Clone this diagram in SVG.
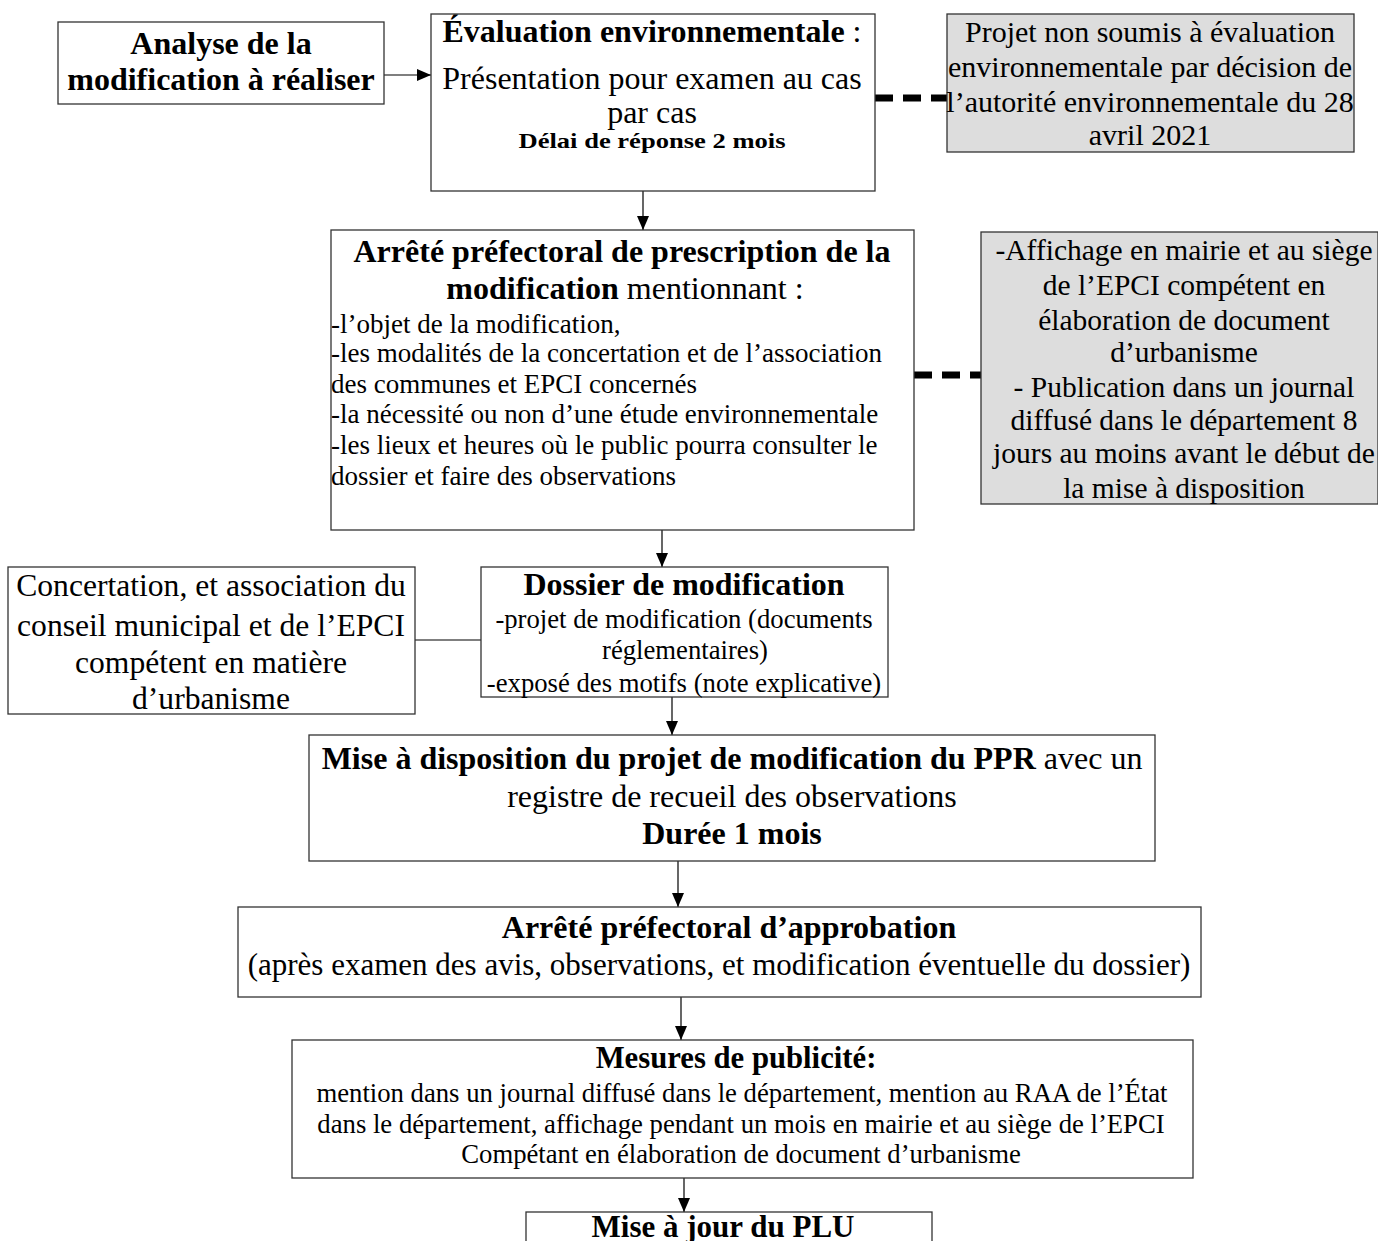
<svg xmlns="http://www.w3.org/2000/svg" width="1378" height="1241" viewBox="0 0 1378 1241">
<defs>
<marker id="arr" viewBox="0 0 14 12" refX="14" refY="6" markerWidth="14" markerHeight="12" markerUnits="userSpaceOnUse" orient="auto">
<path d="M0,0 L14,6 L0,12 Z" fill="#000"/>
</marker>
<style>
.box{fill:#fff;stroke:#333;stroke-width:1.3}
.gray{fill:#dddddd;stroke:#333;stroke-width:1.3}
text{font-family:"Liberation Serif","Times New Roman",serif;fill:#000}
.c{text-anchor:middle}
.b{font-weight:bold}
.h{font-size:32px}
.m{font-size:31.6px}
.g{font-size:30px}
.g2{font-size:29.5px}
.s{font-size:27px}
.s2{font-size:26.7px}
.ln{stroke:#000;stroke-width:1.2;fill:none}
.dash{stroke:#000;stroke-width:7;stroke-dasharray:18,10;fill:none}
</style>
</defs>
<rect width="1378" height="1241" fill="#fff"/>
<g id="connectors">
<line class="ln" x1="384" y1="75" x2="431" y2="75" marker-end="url(#arr)"/>
<line class="dash" x1="875" y1="98" x2="947" y2="98"/>
<line class="ln" x1="643" y1="191" x2="643" y2="230" marker-end="url(#arr)"/>
<line class="dash" x1="914" y1="375" x2="981" y2="375"/>
<line class="ln" x1="662" y1="521" x2="662" y2="567" marker-end="url(#arr)"/>
<line class="ln" x1="415" y1="640" x2="481" y2="640"/>
<line class="ln" x1="672" y1="697" x2="672" y2="735" marker-end="url(#arr)"/>
<line class="ln" x1="678" y1="861" x2="678" y2="907" marker-end="url(#arr)"/>
<line class="ln" x1="681" y1="997" x2="681" y2="1040" marker-end="url(#arr)"/>
<line class="ln" x1="684" y1="1178" x2="684" y2="1212" marker-end="url(#arr)"/>
</g>
<g id="analyse">
<rect class="box" x="58" y="22" width="326" height="82"/>
<text class="c b h" x="221" y="54">Analyse de la</text>
<text class="c b h" x="221" y="90">modification à réaliser</text>
</g>
<g id="evaluation">
<rect class="box" x="431" y="14" width="444" height="177"/>
<text class="c h" x="652" y="42"><tspan class="b">Évaluation environnementale</tspan> :</text>
<text class="c h" x="652" y="89">Présentation pour examen au cas</text>
<text class="c h" x="652" y="123">par cas</text>
<text class="c b" x="652" y="148" font-size="22" textLength="267" lengthAdjust="spacingAndGlyphs">Délai de réponse 2 mois</text>
</g>
<g id="non-soumis">
<rect class="gray" x="947" y="14" width="407" height="138"/>
<text class="c g" x="1150" y="42">Projet non soumis à évaluation</text>
<text class="c g" x="1150" y="77">environnementale par décision de</text>
<text class="c g" x="1150" y="112">l’autorité environnementale du 28</text>
<text class="c g" x="1150" y="145">avril 2021</text>
</g>
<g id="prescription">
<rect class="box" x="331" y="230" width="583" height="300"/>
<text class="c b h" x="622" y="262">Arrêté préfectoral de prescription de la</text>
<text class="c h" x="625" y="299"><tspan class="b">modification</tspan> mentionnant :</text>
<text class="s" x="331" y="333">-l’objet de la modification,</text>
<text class="s" x="331" y="362">-les modalités de la concertation et de l’association</text>
<text class="s" x="331" y="393">des communes et EPCI concernés</text>
<text class="s" x="331" y="423">-la nécessité ou non d’une étude environnementale</text>
<text class="s" x="331" y="454">-les lieux et heures où le public pourra consulter le</text>
<text class="s" x="331" y="485">dossier et faire des observations</text>
</g>
<g id="affichage">
<rect class="gray" x="981" y="232" width="397" height="272"/>
<text class="c g2" x="1184" y="260">-Affichage en mairie et au siège</text>
<text class="c g2" x="1184" y="295">de l’EPCI compétent en</text>
<text class="c g2" x="1184" y="330">élaboration de document</text>
<text class="c g2" x="1184" y="362">d’urbanisme</text>
<text class="c g2" x="1184" y="397">- Publication dans un journal</text>
<text class="c g2" x="1184" y="430">diffusé dans le département 8</text>
<text class="c g2" x="1184" y="463">jours au moins avant le début de</text>
<text class="c g2" x="1184" y="498">la mise à disposition</text>
</g>
<g id="concertation">
<rect class="box" x="8" y="567" width="407" height="147"/>
<text class="c m" x="211" y="596">Concertation, et association du</text>
<text class="c m" x="211" y="636">conseil municipal et de l’EPCI</text>
<text class="c m" x="211" y="673">compétent en matière</text>
<text class="c m" x="211" y="709">d’urbanisme</text>
</g>
<g id="dossier">
<rect class="box" x="481" y="567" width="407" height="130"/>
<text class="c b h" x="684" y="595">Dossier de modification</text>
<text class="c s2" x="684" y="628">-projet de modification (documents</text>
<text class="c s2" x="685" y="659">réglementaires)</text>
<text class="c s2" x="684" y="692">-exposé des motifs (note explicative)</text>
</g>
<g id="mise-a-disposition">
<rect class="box" x="309" y="735" width="846" height="126"/>
<text class="c h" x="732" y="769"><tspan class="b">Mise à disposition du projet de modification du PPR</tspan> avec un</text>
<text class="c h" x="732" y="807">registre de recueil des observations</text>
<text class="c b h" x="732" y="844">Durée 1 mois</text>
</g>
<g id="approbation">
<rect class="box" x="238" y="907" width="963" height="90"/>
<text class="c b h" x="729" y="938">Arrêté préfectoral d’approbation</text>
<text class="c" x="719" y="975" font-size="31">(après examen des avis, observations, et modification éventuelle du dossier)</text>
</g>
<g id="publicite">
<rect class="box" x="292" y="1040" width="901" height="138"/>
<text class="c b" x="736" y="1068" font-size="30.7">Mesures de publicité:</text>
<text class="c s2" x="742" y="1102">mention dans un journal diffusé dans le département, mention au RAA de l’État</text>
<text class="c s2" x="741" y="1133">dans le département, affichage pendant un mois en mairie et au siège de l’EPCI</text>
<text class="c s2" x="741" y="1163">Compétant en élaboration de document d’urbanisme</text>
</g>
<g id="plu">
<rect class="box" x="526" y="1212" width="406" height="40"/>
<text class="c b" x="723" y="1237" font-size="31">Mise à jour du PLU</text>
</g>
</svg>
